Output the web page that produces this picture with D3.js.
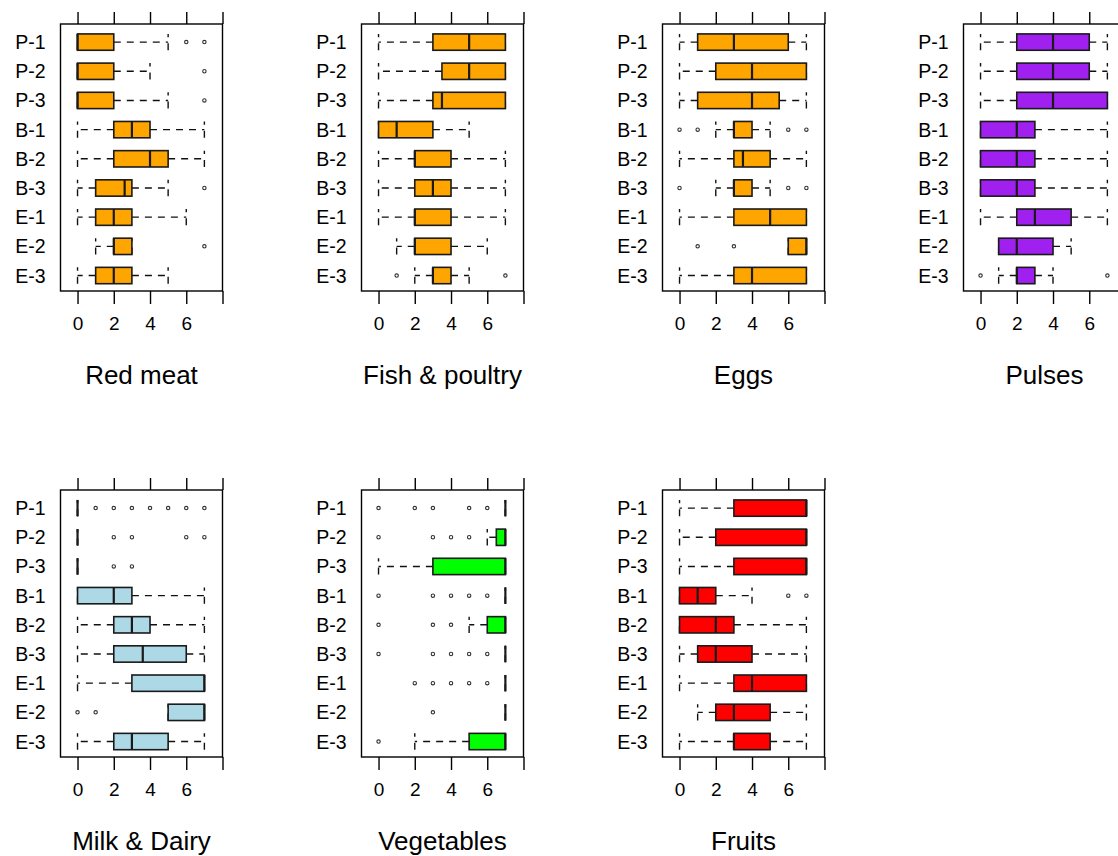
<!DOCTYPE html>
<html>
<head>
<meta charset="utf-8">
<script src="https://cdn.jsdelivr.net/npm/d3@7"></script>
<style>
  body { margin: 0; background: #fff; }
  text { font-family: "Liberation Sans", Arial, sans-serif; fill: #000; }
</style>
</head>
<body>
<svg id="chart" width="1118" height="856"></svg>
<script>
// groups, top to bottom
const categories = ["P-1", "P-2", "P-3", "B-1", "B-2", "B-3", "E-1", "E-2", "E-3"];
const panelTitles = ["Red meat", "Fish & poultry", "Eggs", "Pulses", "Milk & Dairy", "Vegetables", "Fruits"];
const panelFills = ["#FFA500", "#FFA500", "#FFA500", "#A020F0", "#ADD8E6", "#00FF00", "#FF0000"];
const xTicks = [0, 2, 4, 6, 8];
const xTickLabels = ["0", "2", "4", "6"];

// [lower whisker, Q1, median, Q3, upper whisker] per group
const redMeat = [[0,0,0,2,5],[0,0,0,2,4],[0,0,0,2,5],[0,2,3,4,7],[0,2,4,5,7],[0,1,2.6,3,5],[0,1,2,3,6],[1,2,2,3,3],[0,1,2,3,5]];
const redMeatOut = [[6,7],[7],[7],[],[],[7],[],[7],[]];

const fish = [[0,3,5,7,7],[0,3.5,5,7,7],[0,3,3.5,7,7],[0,0,1,3,5],[0,2,2,4,7],[0,2,3,4,7],[0,2,2,4,7],[1,2,2,4,6],[2,3,3,4,5]];
const fishOut = [[],[],[],[],[],[],[],[],[1,7]];

const eggs = [[0,1,3,6,7],[0,2,4,7,7],[0,1,4,5.5,7],[2,3,3,4,5],[0,3,3.5,5,7],[2,3,3,4,5],[0,3,5,7,7],[6,6,7,7,7],[0,3,4,7,7]];
const eggsOut = [[],[],[],[0,1,6,7],[],[0,6,7],[],[1,3],[]];

const pulses = [[0,2,4,6,7],[0,2,4,6,7],[0,2,4,7,7],[0,0,2,3,7],[0,0,2,3,7],[0,0,2,3,7],[0,2,3,5,7],[1,1,2,4,5],[1,2,2,3,4]];
const pulsesOut = [[],[],[],[],[],[],[],[],[0,7]];

const milk = [[0,0,0,0,0],[0,0,0,0,0],[0,0,0,0,0],[0,0,2,3,7],[0,2,3,4,7],[0,2,3.6,6,7],[0,3,7,7,7],[5,5,7,7,7],[0,2,3,5,7]];
const milkOut = [[1,2,3,4,5,6,7],[2,3,6,7],[2,3],[],[],[],[],[0,1],[]];

const vegetables = [[7,7,7,7,7],[6,6.5,7,7,7],[0,3,7,7,7],[7,7,7,7,7],[5,6,7,7,7],[7,7,7,7,7],[7,7,7,7,7],[7,7,7,7,7],[2,5,7,7,7]];
const vegetablesOut = [[0,2,3,5,6],[0,3,4,5],[],[0,3,4,5,6],[0,3,4],[0,3,4,5,6],[2,3,4,5,6],[3],[0]];

const fruits = [[0,3,7,7,7],[0,2,7,7,7],[0,3,7,7,7],[0,0,1,2,4],[0,0,2,3,7],[0,1,2,4,7],[0,3,4,7,7],[1,2,3,5,7],[0,3,3,5,7]];
const fruitsOut = [[],[],[],[6,7],[],[],[],[],[]];

const panelStats = [redMeat, fish, eggs, pulses, milk, vegetables, fruits];
const panelOutliers = [redMeatOut, fishOut, eggsOut, pulsesOut, milkOut, vegetablesOut, fruitsOut];

const svg = d3.select("#chart");
svg.append("rect").attr("width", 1118).attr("height", 856).attr("fill", "#fff");

const plotW = 162, plotH = 267;
const colStep = 301;
const rowTops = [24, 490];
const dash = "7,6";

panelTitles.forEach(function (title, k) {
    var col = k % 4, row = Math.floor(k / 4);
    var left = 60.5 + col * colStep;
    var top = rowTops[row];

    var x = d3.scaleLinear().domain([-0.94, 8]).range([left, left + plotW]);
    var y = d3.scaleLinear().domain([-0.62, 8.53]).range([top, top + plotH]);
    var step = y(1) - y(0);
    var half = step * 0.28;

    var g = svg.append("g");

    // frame
    g.append("rect")
        .attr("x", left).attr("y", top)
        .attr("width", plotW).attr("height", plotH)
        .attr("fill", "none").attr("stroke", "#000").attr("stroke-width", 1.4);

    // bottom axis with labels, top axis ticks only
    var bottom = d3.axisBottom(x).tickValues(xTicks).tickSize(13).tickPadding(13)
        .tickFormat((d, i) => xTickLabels[i] || "");
    var ax = g.append("g").attr("transform", `translate(0,${top + plotH})`).call(bottom);
    ax.select(".domain").remove();
    ax.selectAll("line").attr("stroke", "#000").attr("stroke-width", 1.4);
    ax.selectAll("text").attr("font-size", 19).attr("fill", "#000")
        .attr("font-family", "'Liberation Sans', Arial, sans-serif");

    var topAx = g.append("g").attr("transform", `translate(0,${top})`)
        .call(d3.axisTop(x).tickValues(xTicks).tickSize(12).tickFormat(""));
    topAx.select(".domain").remove();
    topAx.selectAll("line").attr("stroke", "#000").attr("stroke-width", 1.4);

    // group labels
    g.selectAll(".lab")
        .data(categories)
        .enter().append("text")
        .attr("x", left - 15)
        .attr("y", (d, i) => y(i))
        .attr("dy", "0.36em")
        .attr("text-anchor", "end")
        .attr("font-size", 19.5)
        .text(d => d);

    // panel title
    g.append("text")
        .attr("x", left + plotW / 2)
        .attr("y", top + plotH + 93)
        .attr("text-anchor", "middle")
        .attr("font-size", 26)
        .text(title);

    var stats = panelStats[k];
    var outs = panelOutliers[k];

    stats.forEach(function (s, i) {
        var cy = y(i);
        var lo = s[0], q1 = s[1], med = s[2], q3 = s[3], hi = s[4];

        // whiskers, drawn from box outwards
        [[q1, lo], [q3, hi]].forEach(function (w) {
            if (w[0] !== w[1]) {
                g.append("line")
                    .attr("x1", x(w[0])).attr("x2", x(w[1]))
                    .attr("y1", cy).attr("y2", cy)
                    .attr("stroke", "#111").attr("stroke-width", 1.4)
                    .attr("stroke-dasharray", dash);
            }
            // staple
            g.append("line")
                .attr("x1", x(w[1])).attr("x2", x(w[1]))
                .attr("y1", cy + half).attr("y2", cy - half)
                .attr("stroke", "#111").attr("stroke-width", 1.4)
                .attr("stroke-dasharray", dash);
        });

        g.append("rect")
            .attr("x", x(q1)).attr("y", cy - half)
            .attr("width", x(q3) - x(q1)).attr("height", 2 * half)
            .attr("fill", panelFills[k])
            .attr("stroke", "#1a1a1a").attr("stroke-width", 1.6);

        g.append("line")
            .attr("x1", x(med)).attr("x2", x(med))
            .attr("y1", cy - half).attr("y2", cy + half)
            .attr("stroke", "#1a1a1a").attr("stroke-width", 2.2);

        g.selectAll(null)
            .data(outs[i])
            .enter().append("circle")
            .attr("cx", d => x(d)).attr("cy", cy)
            .attr("r", 1.7)
            .attr("fill", "none").attr("stroke", "#333").attr("stroke-width", 1.1);
    });
});
</script>
</body>
</html>
